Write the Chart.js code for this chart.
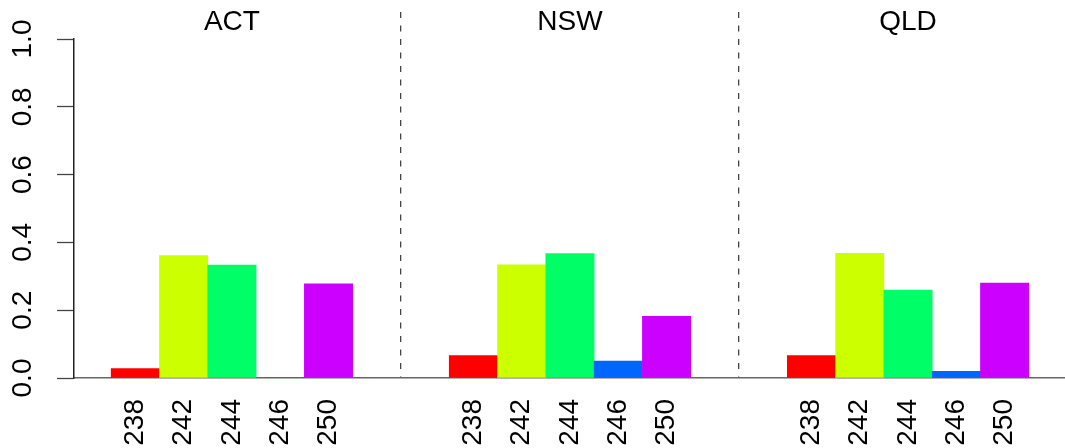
<!DOCTYPE html>
<html>
<head>
<meta charset="utf-8">
<script src="https://cdn.jsdelivr.net/npm/chart.js@4/dist/chart.umd.min.js"></script>
<style>
  body { margin: 0; background: #fff; }
  #wrap { width: 1065px; height: 448px; }
</style>
</head>
<body>
<div id="wrap"><canvas id="freqChart"></canvas></div>
<script>
const regions = ['ACT', 'NSW', 'QLD'];
const alleles = ['238', '242', '244', '246', '250'];
const actFreq = [0.028, 0.361, 0.333, 0, 0.278];
const nswFreq = [0.066, 0.334, 0.367, 0.05, 0.182];
const qldFreq = [0.066, 0.368, 0.259, 0.02, 0.28];
const yTicks = [0, 0.2, 0.4, 0.6, 0.8, 1.0];
const alleleColors = ['#FF0000', '#CCFF00', '#00FF66', '#0066FF', '#CC00FF'];

// each region gets 5 bar slots, then 2 empty slots
const groupStep = 7;
const allFreq = [actFreq, nswFreq, qldFreq];

const points = [];
const barColors = [];
const xTickPos = [];
const xTickText = {};
allFreq.forEach((freqs, g) => {
    freqs.forEach((v, i) => {
        const pos = g * groupStep + i;
        points.push({ x: pos, y: v });
        barColors.push(alleleColors[i]);
        xTickPos.push(pos);
        xTickText[pos] = alleles[i];
    });
});

// region titles at group centre, dashed separators between groups
const topTicks = [];
const topText = {};
regions.forEach((r, g) => {
    const c = g * groupStep + 2;
    topTicks.push(c);
    topText[c] = r;
    if (g < regions.length - 1) {
        topTicks.push(c + 3.5);
        topText[c + 3.5] = '';
    }
});

const font = { family: '"Liberation Sans", Arial, sans-serif', size: 28 };
const xMin = -1.27, xMax = 19.25;
const sepColor = (ctx) => (ctx.tick && ctx.tick.value % 1 !== 0) ? '#444' : 'rgba(0,0,0,0)';

const ctx = document.getElementById('freqChart').getContext('2d');
const freqChart = new Chart(ctx, {
    type: 'bar',
    data: {
        datasets: [{
            data: points,
            backgroundColor: barColors,
            borderWidth: 0,
            barPercentage: 1,
            categoryPercentage: 1,
            xAxisID: 'x',
            yAxisID: 'y',
        }],
    },
    options: {
        responsive: true,
        maintainAspectRatio: false,
        animation: false,
        layout: { padding: 0 },
        plugins: { legend: { display: false }, tooltip: { enabled: false } },
        scales: {
            x: {
                type: 'linear',
                position: 'bottom',
                offset: false,
                min: xMin,
                max: xMax,
                grid: { display: false, offset: false },
                border: { display: true, color: '#666', width: 1.5 },
                afterBuildTicks: (axis) => { axis.ticks = xTickPos.map((v) => ({ value: v })); },
                afterFit: (axis) => { axis.height = 70; },
                ticks: {
                    autoSkip: false,
                    minRotation: 90,
                    maxRotation: 90,
                    padding: 13,
                    color: '#000',
                    font: font,
                    callback: (v) => xTickText[v],
                },
            },
            top: {
                type: 'linear',
                position: 'top',
                offset: false,
                min: xMin,
                max: xMax,
                grid: {
                    display: true,
                    offset: false,
                    drawOnChartArea: true,
                    drawTicks: true,
                    tickLength: 27,
                    color: sepColor,
                    tickColor: sepColor,
                    lineWidth: 1.3,
                    tickWidth: 1.3,
                    tickBorderDash: [6, 7.5],
                },
                border: { display: false, dash: [6, 7.5] },
                afterBuildTicks: (axis) => { axis.ticks = topTicks.map((v) => ({ value: v })); },
                afterFit: (axis) => { axis.height = 39; },
                ticks: {
                    autoSkip: false,
                    maxRotation: 0,
                    padding: -27,
                    color: '#000',
                    font: font,
                    callback: (v) => topText[v],
                },
            },
            y: {
                type: 'linear',
                position: 'left',
                min: 0,
                max: 1,
                grid: { drawOnChartArea: false, tickLength: 17, color: '#444', tickWidth: 1.3 },
                border: { color: '#222', width: 1.5 },
                afterBuildTicks: (axis) => { axis.ticks = yTicks.map((v) => ({ value: v })); },
                afterFit: (axis) => { axis.width = 74; },
                ticks: {
                    minRotation: 90,
                    maxRotation: 90,
                    crossAlign: 'center',
                    padding: 14.5,
                    color: '#000',
                    font: font,
                    callback: (v) => v.toFixed(1),
                },
            },
        },
    },
});
</script>
</body>
</html>
